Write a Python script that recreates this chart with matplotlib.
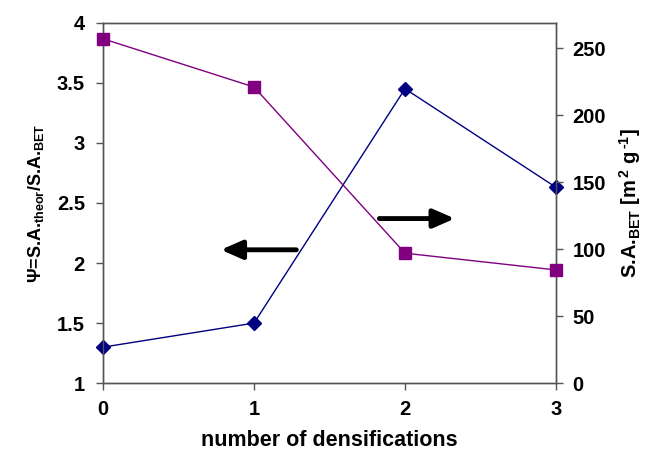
import matplotlib
matplotlib.use('Agg')
import matplotlib.pyplot as plt

plt.rcParams['font.family'] = ['Liberation Sans', 'DejaVu Sans']
plt.rcParams['font.weight'] = 'bold'
plt.rcParams['axes.labelweight'] = 'bold'
plt.rcParams['mathtext.fontset'] = 'custom'
plt.rcParams['mathtext.rm'] = 'Liberation Sans:bold'
plt.rcParams['mathtext.it'] = 'Liberation Sans:bold'
plt.rcParams['mathtext.bf'] = 'Liberation Sans:bold'

densifications = [0, 1, 2, 3]
psi = [1.30, 1.50, 3.45, 2.63]
sa_bet = [257, 221, 97, 84.5]

fig = plt.figure(figsize=(6.48, 4.54), dpi=100)
ax = fig.add_axes([0.159, 0.156, 0.699, 0.794])
ax2 = ax.twinx()

ax.plot(densifications, psi, color='#000080', lw=1, marker='D', markersize=7,
        markerfacecolor='#000080', markeredgecolor='#000080', clip_on=False, zorder=3)
ax2.plot(densifications, sa_bet, color='#800080', lw=1, marker='s', markersize=8,
         markerfacecolor='#800080', markeredgecolor='#800080', clip_on=False, zorder=3)

ax.set_xlim(0, 3)
ax.set_ylim(1, 4)
ax2.set_ylim(0, 269)
ax.set_xticks(densifications)
ax.set_yticks([1, 1.5, 2, 2.5, 3, 3.5, 4])
ax.set_yticklabels(['1', '1.5', '2', '2.5', '3', '3.5', '4'])
ax2.set_yticks([0, 50, 100, 150, 200, 250])

for a in (ax, ax2):
    for s in a.spines.values():
        s.set_color('#555555')
        s.set_linewidth(1)
    a.tick_params(direction='out', length=5, width=1, color='#555555', labelsize=14.5)
ax.tick_params(axis='y', pad=8)
ax.tick_params(axis='x', pad=7)
ax2.tick_params(axis='y', pad=7)

ax.set_xlabel('number of densifications', fontsize=15.5, labelpad=8)
ax.set_ylabel(r'$\Psi$=S.A.$_{\mathrm{theor}}$/S.A.$_{\mathrm{BET}}$', fontsize=13, labelpad=8)
ax2.set_ylabel(r'S.A.$_{\mathrm{BET}}$ [m$^{\,2}$ g$^{\,\text{-}1}$]', fontsize=14.5, labelpad=8)

# arrows pointing to the axis of each series
arrow = dict(arrowstyle='-|>,head_length=0.8,head_width=0.35', color='black', lw=3.5,
             mutation_scale=16, shrinkA=0, shrinkB=0)
ax.annotate('', xy=(0.78, 2.11), xytext=(1.28, 2.11), arrowprops=arrow)
ax.annotate('', xy=(2.33, 2.37), xytext=(1.83, 2.37), arrowprops=arrow)

fig.savefig('out.png', dpi=100)
